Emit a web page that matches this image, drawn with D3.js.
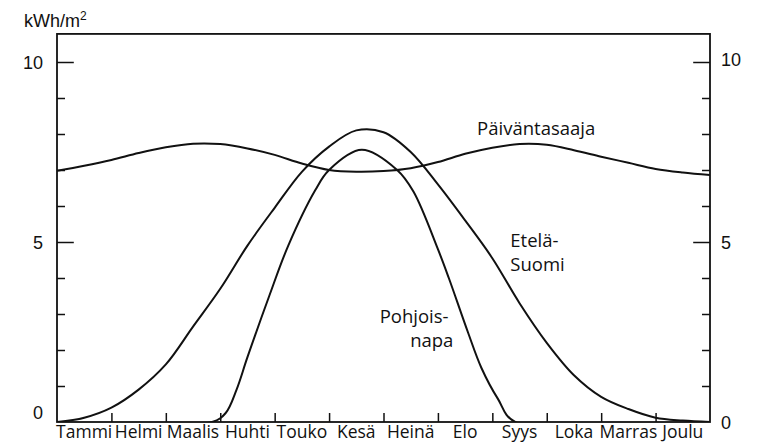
<!DOCTYPE html>
<html>
<head>
<meta charset="utf-8">
<script src="https://cdn.jsdelivr.net/npm/d3@7"></script>
<style>
body { margin: 0; background: #fff; }
.num { font-family: "Liberation Sans", Arial, sans-serif; font-size: 18px; fill: #111; }
.lbl { font-family: "Open Sans", sans-serif; font-size: 17.5px; fill: #111; }
.big { font-size: 18.5px; }
</style>
</head>
<body>
<div id="main_div"></div>
<script>
// kuukaudet (x = kuukauden indeksi 0..12)
var months = ["Tammi", "Helmi", "Maalis", "Huhti", "Touko", "Kesä", "Heinä", "Elo", "Syys", "Loka", "Marras", "Joulu"];
var halfMonths = [0, 0.5, 1, 1.5, 2, 2.5, 3, 3.5, 4, 4.5, 5, 5.5, 6, 6.5, 7, 7.5, 8, 8.5, 9, 9.5, 10, 10.5, 11, 11.5, 12];
var equator = [6.98, 7.12, 7.28, 7.47, 7.63, 7.73, 7.72, 7.6, 7.42, 7.18, 7.0, 6.95, 6.97, 7.05, 7.22, 7.45, 7.62, 7.72, 7.7, 7.55, 7.37, 7.2, 7.03, 6.93, 6.86];
var southFinland = [0, 0.12, 0.4, 0.9, 1.6, 2.65, 3.7, 4.9, 5.95, 6.95, 7.65, 8.1, 8.05, 7.5, 6.6, 5.6, 4.55, 3.3, 2.2, 1.3, 0.7, 0.36, 0.12, 0.04, 0];
var poleMonths = [0, 2.85, 3.1, 3.3, 3.5, 3.9, 4.25, 4.75, 5.0, 5.6, 6.25, 6.55, 7.0, 7.2, 7.55, 7.8, 8.1, 8.42, 12];
var northPole = [0, 0, 0.25, 0.9, 1.8, 3.5, 4.9, 6.45, 7.0, 7.56, 7.0, 6.4, 4.8, 4.0, 2.5, 1.5, 0.65, 0, 0];
var yTicks = [1, 2, 3, 4, 5, 6, 7, 8, 9, 10];
var yLabels = [0, 5, 10];

var W = 759, H = 443;
var x_scale = d3.scaleLinear().domain([0, 12]).range([57, 710]);
var y_scale = d3.scaleLinear().domain([0, 10]).range([422, 62]);

var svg = d3.select("#main_div").append("svg").attr("width", W).attr("height", H);

svg.append("clipPath").attr("id", "plot").append("rect")
    .attr("x", x_scale(0)).attr("y", 0)
    .attr("width", x_scale(12) - x_scale(0)).attr("height", y_scale(0));

// kehys
svg.append("rect")
    .attr("x", x_scale(0)).attr("y", y_scale(10.78))
    .attr("width", x_scale(12) - x_scale(0)).attr("height", y_scale(0) - y_scale(10.78))
    .attr("fill", "none").attr("stroke", "#111").attr("stroke-width", 1.8);

// y-tikit molemmin puolin sisäänpäin
var g_l = svg.append("g").attr("transform", "translate(" + x_scale(0) + ",0)")
    .call(d3.axisRight(y_scale).tickValues(yTicks).tickFormat("").tickSizeOuter(0)
        .tickSize(8));
var g_r = svg.append("g").attr("transform", "translate(" + x_scale(12) + ",0)")
    .call(d3.axisLeft(y_scale).tickValues(yTicks).tickFormat("").tickSizeOuter(0)
        .tickSize(8));
[g_l, g_r].forEach(function(g) {
    g.select(".domain").remove();
    g.selectAll(".tick line").attr("stroke", "#111").attr("stroke-width", 1.5)
        .attr("x2", function(d) {
            var s = d3.select(this).attr("x2");
            return (d % 5 === 0) ? s * 2.1 : s;
        });
});

// x-tikit ylöspäin
var g_x = svg.append("g").attr("transform", "translate(0," + y_scale(0) + ")")
    .call(d3.axisTop(x_scale).tickValues(d3.range(1, 12)).tickFormat("").tickSize(9).tickSizeOuter(0));
g_x.select(".domain").remove();
g_x.selectAll(".tick line").attr("stroke", "#111").attr("stroke-width", 1.5);

// kuukausien nimet
svg.append("g").selectAll("text").data(months).enter().append("text")
    .attr("class", "lbl")
    .attr("x", function(d, i) { return x_scale(i + 0.5); })
    .attr("y", 438)
    .attr("text-anchor", "middle")
    .text(function(d) { return d; });

// y-luvut
svg.append("g").selectAll("text").data(yLabels).enter().append("text")
    .attr("class", "num")
    .attr("x", 43)
    .attr("y", function(d) { return y_scale(d) + (d === 0 ? -3 : 7); })
    .attr("text-anchor", "end")
    .text(function(d) { return d; });
svg.append("g").selectAll("text").data(yLabels).enter().append("text")
    .attr("class", "num")
    .attr("x", 721)
    .attr("y", function(d) { return y_scale(d) + (d === 10 ? 4 : 7); })
    .attr("text-anchor", "start")
    .text(function(d) { return d; });

var unit = svg.append("text").attr("class", "num").attr("x", 24).attr("y", 27);
unit.append("tspan").text("kWh/m");
unit.append("tspan").attr("font-size", 12).attr("dy", -7).text("2");

// käyrät
var line = d3.line()
    .x(function(d) { return x_scale(d[0]); })
    .y(function(d) { return y_scale(d[1]); })
    .curve(d3.curveCatmullRom.alpha(0.5));

function pairs(xs, ys) {
    return xs.map(function(v, i) { return [v, ys[i]]; });
}

var series = [pairs(halfMonths, equator), pairs(halfMonths, southFinland), pairs(poleMonths, northPole)];
svg.append("g").attr("clip-path", "url(#plot)")
    .selectAll("path").data(series).enter().append("path")
    .attr("d", line)
    .attr("fill", "none")
    .attr("stroke", "#111")
    .attr("stroke-width", 2);

// sarjojen nimet
svg.append("text").attr("class", "lbl big").attr("x", x_scale(7.72)).attr("y", y_scale(7.97)).text("Päiväntasaaja");
svg.append("text").attr("class", "lbl big").attr("x", x_scale(8.33)).attr("y", y_scale(4.86)).text("Etelä-");
svg.append("text").attr("class", "lbl big").attr("x", x_scale(8.33)).attr("y", y_scale(4.2)).text("Suomi");
svg.append("text").attr("class", "lbl big").attr("x", x_scale(5.93)).attr("y", y_scale(2.75)).text("Pohjois-");
svg.append("text").attr("class", "lbl big").attr("x", x_scale(6.49)).attr("y", y_scale(2.08)).text("napa");
</script>
</body>
</html>
